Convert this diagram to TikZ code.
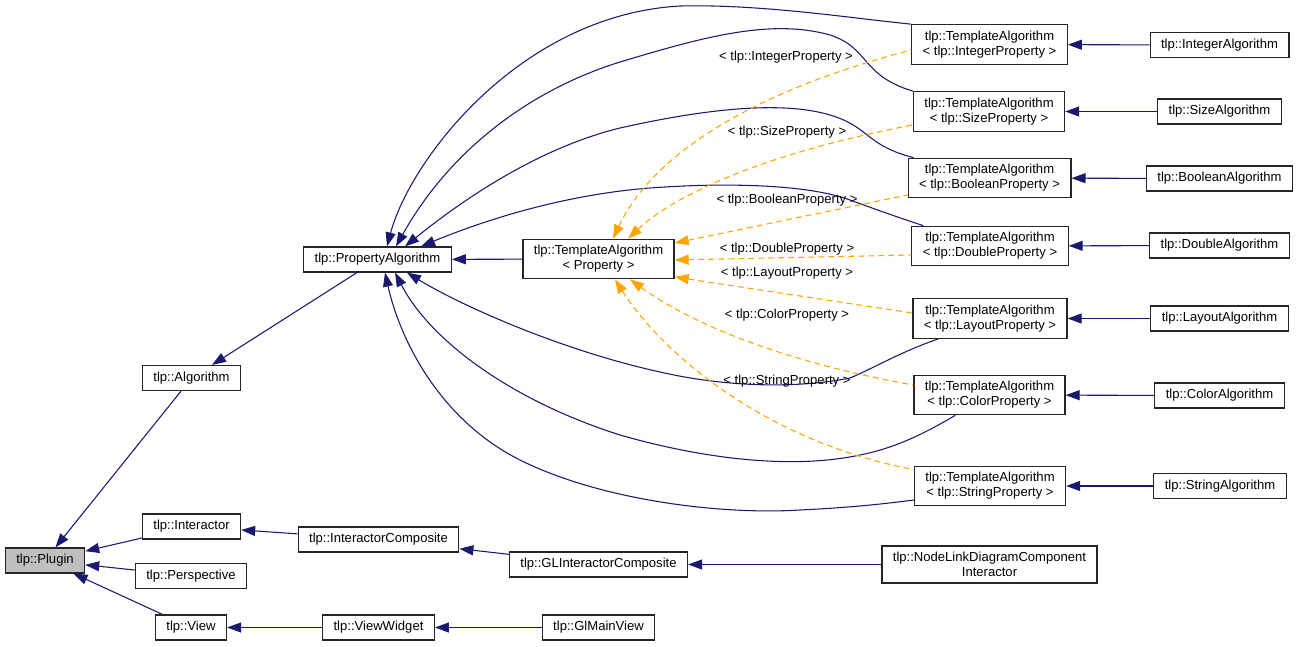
\documentclass[tikz,border=0pt]{standalone}
\usepackage{fontspec}
\setmainfont{Liberation Sans}
\usetikzlibrary{arrows.meta,calc}
\definecolor{navy}{HTML}{191970}
\definecolor{tplorange}{HTML}{FFA500}
\begin{document}
\begin{tikzpicture}[x=0.75pt,y=-0.75pt,
    cls/.style={draw=black!85,line width=0.9pt,fill=white,inner xsep=8.2pt,inner ysep=4.6pt,
      minimum height=18.75pt,align=center,font=\fontsize{9.8}{11.3}\selectfont},
    inh/.style={navy,line width=0.8pt,{Triangle[length=10.5pt,width=7.5pt]}-},
    inst/.style={tplorange,line width=0.8pt,dash pattern=on 4.5pt off 3pt,{Triangle[length=10.5pt,width=7.5pt]}-},
    lbl/.style={font=\fontsize{9.8}{11.3}\selectfont,inner sep=0pt}]
\useasboundingbox (0,0) rectangle (1299,646);
\node[cls,fill=black!25] (plugin) at (45,560.5) {tlp::Plugin};
\node[cls] (algorithm) at (191.5,378) {tlp::Algorithm};
\node[cls] (interactor) at (191.5,526.5) {tlp::Interactor};
\node[cls] (perspective) at (191,576) {tlp::Perspective};
\node[cls] (view) at (191,627.5) {tlp::View};
\node[cls] (propalg) at (377.5,259.5) {tlp::PropertyAlgorithm};
\node[cls] (tmplprop) at (598.5,259) {tlp::TemplateAlgorithm\\< Property >};
\node[cls] (intcomp) at (378.5,539.5) {tlp::InteractorComposite};
\node[cls] (glintcomp) at (598.5,564.5) {tlp::GLInteractorComposite};
\node[cls] (viewwidget) at (378.5,627.5) {tlp::ViewWidget};
\node[cls] (glmainview) at (598.5,627.5) {tlp::GlMainView};
\node[cls] (nldci) at (989.5,564.5) {tlp::NodeLinkDiagramComponent\\Interactor};
\node[cls] (tmplint) at (989.5,44.5) {tlp::TemplateAlgorithm\\< tlp::IntegerProperty >};
\node[cls] (tmplsize) at (989,111.5) {tlp::TemplateAlgorithm\\< tlp::SizeProperty >};
\node[cls] (tmplbool) at (989.5,178) {tlp::TemplateAlgorithm\\< tlp::BooleanProperty >};
\node[cls] (tmpldbl) at (990,246) {tlp::TemplateAlgorithm\\< tlp::DoubleProperty >};
\node[cls] (tmpllay) at (990,318.5) {tlp::TemplateAlgorithm\\< tlp::LayoutProperty >};
\node[cls] (tmplcol) at (989.5,395) {tlp::TemplateAlgorithm\\< tlp::ColorProperty >};
\node[cls] (tmplstr) at (990,486) {tlp::TemplateAlgorithm\\< tlp::StringProperty >};
\node[cls] (intalg) at (1219.5,45) {tlp::IntegerAlgorithm};
\node[cls] (sizealg) at (1219.5,111.5) {tlp::SizeAlgorithm};
\node[cls] (boolalg) at (1219.5,178.5) {tlp::BooleanAlgorithm};
\node[cls] (dblalg) at (1219.5,245.5) {tlp::DoubleAlgorithm};
\node[cls] (layalg) at (1219.5,318.5) {tlp::LayoutAlgorithm};
\node[cls] (colalg) at (1219.5,395.5) {tlp::ColorAlgorithm};
\node[cls] (stralg) at (1220,486) {tlp::StringAlgorithm};

\draw[inh] (plugin) -- (algorithm);
\draw[inh] (plugin) -- (interactor);
\draw[inh] (plugin) -- (perspective);
\draw[inh] (plugin) -- (view);
\draw[inh] (algorithm) -- (propalg);
\draw[inh] (interactor) -- (intcomp);
\draw[inh] (intcomp) -- (glintcomp);
\draw[inh] (glintcomp) -- (nldci);
\draw[inh] (view) -- (viewwidget);
\draw[inh] (viewwidget) -- (glmainview);
\draw[inh] (propalg) -- (tmplprop);
\draw[inh] (tmplint) -- (intalg);
\draw[inh] (tmplsize) -- (sizealg);
\draw[inh] (tmplbool) -- (boolalg);
\draw[inh] (tmpldbl) -- (dblalg);
\draw[inh] (tmpllay) -- (layalg);
\draw[inh] (tmplcol) -- (colalg);
\draw[inh] (tmplstr) -- (stralg);

\draw[inh] ($(propalg.north)+(9.5,0)$) .. controls (410,160) and (520,15) .. (680,6)
  .. controls (760,4) and (850,18) .. (tmplint.north west);
\draw[inh] ($(propalg.north)+(18.5,0)$) .. controls (450,150) and (530,90) .. (620,62)
  .. controls (700,38) and (770,18) .. (830,35) .. controls (870,48) and (860,75) .. (tmplsize.north west);
\draw[inh] ($(propalg.north)+(27.5,0)$) .. controls (450,210) and (530,150) .. (620,128)
  .. controls (700,110) and (780,100) .. (830,115) .. controls (870,127) and (865,145) .. ($(tmplbool.north west)+(6,0)$);
\draw[inh] ($(propalg.north)+(43.5,0)$) .. controls (480,222) and (560,195) .. (650,188)
  .. controls (730,182) and (810,185) .. (850,200) .. controls (880,211) and (900,218) .. ($(tmpldbl.north west)+(12,0)$);
\draw[inh] ($(propalg.south)+(29.5,0)$) .. controls (460,305) and (560,350) .. (660,372)
  .. controls (730,388) and (800,388) .. (850,378) .. controls (870,370) and (900,352) .. ($(tmpllay.south west)+(26,0)$);
\draw[inh] ($(propalg.south)+(17.5,0)$) .. controls (430,340) and (510,400) .. (620,435)
  .. controls (700,458) and (790,470) .. (860,455) .. controls (900,447) and (930,430) .. ($(tmplcol.south west)+(42,0)$);
\draw[inh] ($(propalg.south)+(7.5,0)$) .. controls (400,340) and (440,420) .. (520,460)
  .. controls (600,500) and (720,515) .. (800,510) .. controls (860,507) and (890,503) .. ($(tmplstr.west)+(0,14)$);

\draw[inst] ($(tmplprop.north)+(14.5,0)$) .. controls (650,160) and (740,95) .. ($(tmplint.west)+(0,5.5)$);
\draw[inst] ($(tmplprop.north)+(29.5,0)$) .. controls (680,190) and (780,150) .. ($(tmplsize.west)+(0,13.5)$);
\draw[inst] ($(tmplprop.east)+(0,-16)$) -- ($(tmplbool.west)+(0,17)$);
\draw[inst] ($(tmplprop.east)+(0,1)$) -- ($(tmpldbl.west)+(0,9)$);
\draw[inst] ($(tmplprop.east)+(0,18)$) -- ($(tmpllay.west)+(0,-5.5)$);
\draw[inst] ($(tmplprop.south)+(31.5,0)$) .. controls (700,330) and (800,365) .. ($(tmplcol.west)+(0,-10)$);
\draw[inst] ($(tmplprop.south)+(16.5,0)$) .. controls (660,350) and (760,440) .. ($(tmplstr.north west)+(0,4)$);

\node[lbl] (lblint) at (786,57) {< tlp::IntegerProperty >};
\node[lbl] (lblsize) at (787,132) {< tlp::SizeProperty >};
\node[lbl] (lblbool) at (787,200) {< tlp::BooleanProperty >};
\node[lbl] (lbldbl) at (787,249) {< tlp::DoubleProperty >};
\node[lbl] (lbllay) at (787,273) {< tlp::LayoutProperty >};
\node[lbl] (lblcol) at (787,315) {< tlp::ColorProperty >};
\node[lbl] (lblstr) at (787,381) {< tlp::StringProperty >};
\end{tikzpicture}
\end{document}
